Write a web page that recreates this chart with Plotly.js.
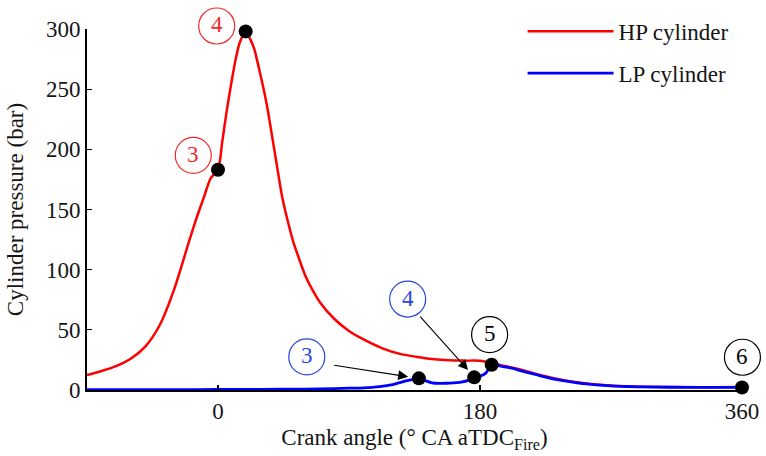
<!DOCTYPE html>
<html>
<head>
<meta charset="utf-8">
<script src="https://cdn.plot.ly/plotly-3.0.1.min.js"></script>
<style>html,body{margin:0;padding:0;background:#fff;}#chart{width:766px;height:456px;}</style>
</head>
<body>
<div id="chart"></div>
<script>
// ---- data ----
const hpAngle = [-90,-80,-70,-60,-50,-40,-30,-20,-15,-10,-5,0,3,6,9,12,15,19,22,25,28,31,34,37,40,44,48,52,56,60,65,70,80,90,100,113,125,136,147,159,170,180,188,195,200,207,215,225,235,248,260,270,280,300,320,340,360];
const hpPressure = [12.4,15.8,19.8,26,36,54,84,123,142,159,176,183,207,232,254,274,289,298,292,283,268,252,234,212,190,161,140,122,108,95,83,73,59,49,42,34.6,30,27.7,25.8,24.7,24.4,24.3,22.5,20.3,19.2,17.2,14.6,11.4,8.8,6.2,4.6,3.7,3.1,2.6,2.4,2.3,2.4];
const lpAngle = [-90,-60,-30,0,30,60,80,90,100,111,120,129,134,138,142,147,152,157,162,167,172,176,180,184,188,195,200,207,215,225,235,248,260,270,280,300,320,340,360];
const lpPressure = [0.2,0.2,0.3,0.4,0.5,0.8,1.2,1.5,1.8,2.8,4.5,7.5,8.8,9.7,8,6,5.5,5.6,6,6.6,8,10.5,11.5,14,21,19.6,18.5,16.4,13.8,10.7,8.2,5.8,4.3,3.4,2.9,2.4,2.2,2.1,2.1];
const hpStateAngle = [0, 19];
const lpStateAngle = [138, 176, 188, 360];
const hpStateLabel = ['3', '4'];
const lpStateLabel = ['3', '4', '5', '6'];
const seriesNames = ['HP cylinder', 'LP cylinder'];
const xTicks = [0, 180, 360];
const yTicks = [0, 50, 100, 150, 200, 250, 300];

function lookup(ax, ay, a) { return ay[ax.indexOf(a)]; }
const hpStateP = hpStateAngle.map(a => lookup(hpAngle, hpPressure, a));
const lpStateP = lpStateAngle.map(a => lookup(lpAngle, lpPressure, a));

const FONT = '"Liberation Serif", "DejaVu Serif", serif';
const FS = 23;
const TXT = '#151515';
const RED = '#ff0000', BLUE = '#0000ff', LBLUE = '#2746e0', LRED = '#f02a2a';
const XR = [-90, 360], YR = [0, 300];

const traces = [
  {x: hpAngle, y: hpPressure, name: seriesNames[0], mode: 'lines', line: {color: RED, width: 2.5, shape: 'spline', smoothing: 0.7}, legendgroup: 'a', cliponaxis: false},
  {x: lpAngle, y: lpPressure, name: seriesNames[1], mode: 'lines', line: {color: BLUE, width: 2.8, shape: 'spline', smoothing: 0.6}, legendgroup: 'b', cliponaxis: false},
  {x: hpStateAngle.concat(lpStateAngle), y: hpStateP.concat(lpStateP), mode: 'markers', marker: {color: '#000', size: 14}, showlegend: false, cliponaxis: false, hoverinfo: 'skip'}
];

// circled state labels (label placement, in data coordinates, converted to paper fractions)
const labelSpec = [
  {x: -17, y: 195, t: hpStateLabel[0], c: LRED},
  {x: -0.9, y: 302.5, t: hpStateLabel[1], c: LRED},
  {x: 61, y: 27.5, t: lpStateLabel[0], c: LBLUE},
  {x: 130.3, y: 75.6, t: lpStateLabel[1], c: LBLUE},
  {x: 186.6, y: 46, t: lpStateLabel[2], c: '#000'},
  {x: 360.3, y: 27.2, t: lpStateLabel[3], c: '#000'}
];
const px = x => (x - XR[0]) / (XR[1] - XR[0]);
const py = y => (y - YR[0]) / (YR[1] - YR[0]);
const circleShapes = labelSpec.map(d => ({
  type: 'circle', xref: 'paper', yref: 'paper', xsizemode: 'pixel', ysizemode: 'pixel',
  xanchor: px(d.x), yanchor: py(d.y), x0: -18, x1: 18, y0: -18, y1: 18,
  line: {color: d.c, width: 1.2}, layer: 'above'
}));
const labelAnns = labelSpec.map(d => ({
  x: px(d.x), y: py(d.y), xref: 'paper', yref: 'paper', text: d.t, showarrow: false,
  xanchor: 'center', yanchor: 'middle', yshift: 1, font: {family: FONT, size: FS, color: d.c}
}));

const arrows = [
  {x: 130.6, y: 11, ax: 78.8, ay: 20.8},
  {x: 171.8, y: 16.6, ax: 138, ay: 62.3}
].map(a => ({x: a.x, y: a.y, ax: a.ax, ay: a.ay, xref: 'x', yref: 'y', axref: 'x', ayref: 'y', text: '', showarrow: true, arrowhead: 2, arrowsize: 1.8, arrowwidth: 1.1, arrowcolor: '#000'}));

const layout = {
  width: 766, height: 456,
  margin: {l: 87, r: 24, t: 29, b: 66, autoexpand: false},
  paper_bgcolor: '#fff', plot_bgcolor: '#fff',
  font: {family: FONT, size: FS, color: TXT},
  showlegend: true,
  legend: {x: 0.665, y: 1.053, xanchor: 'left', yanchor: 'top', bgcolor: 'rgba(0,0,0,0)', font: {family: FONT, size: FS, color: TXT}, itemwidth: 86, tracegroupgap: 9},
  xaxis: {range: XR, tickvals: xTicks, ticktext: xTicks.map(String), ticks: 'inside', ticklen: 5, tickwidth: 1.2, tickcolor: '#000',
          showline: true, linewidth: 2, linecolor: '#000', showgrid: false, zeroline: false, ticklabelstandoff: -1,
          tickfont: {family: FONT, size: FS, color: TXT},
          title: {text: 'Crank angle (° CA aTDC<sub>Fire</sub>)', font: {family: FONT, size: FS, color: TXT}, standoff: 6}},
  yaxis: {range: YR, tickvals: yTicks, ticks: 'inside', ticklen: 5, tickwidth: 1.2, tickcolor: '#000',
          showline: true, linewidth: 2, linecolor: '#000', showgrid: false, zeroline: false,
          tickfont: {family: FONT, size: FS, color: TXT},
          title: {text: 'Cylinder pressure (bar)', font: {family: FONT, size: FS, color: TXT}, standoff: 16}},
  shapes: circleShapes,
  annotations: arrows.concat(labelAnns)
};

Plotly.newPlot('chart', traces, layout, {displayModeBar: false, staticPlot: true});
</script>
</body>
</html>
